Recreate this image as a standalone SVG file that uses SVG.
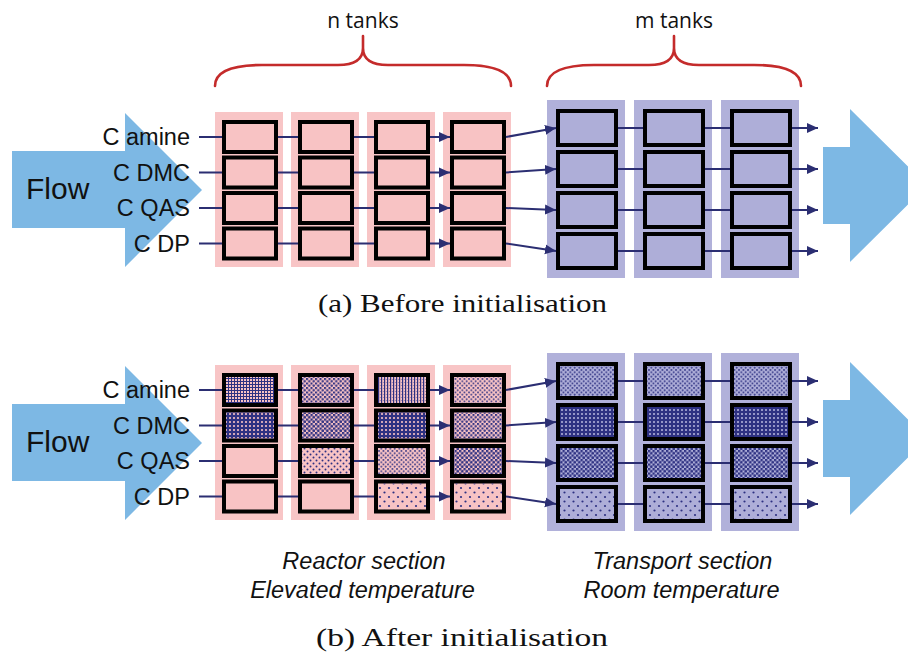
<svg xmlns="http://www.w3.org/2000/svg" width="908" height="654" viewBox="0 0 908 654">
<defs>
<style>
.bg{fill:#fff}
.flow{fill:#7DB8E4}
.pcol{fill:#F8C5C6}
.bcol{fill:#B1B1DA}
.pt{fill:#F8C3C4;stroke:#000;stroke-width:4}
.bt{fill:#AEAED8;stroke:#000;stroke-width:4}
.lbl{font-family:"Liberation Sans",Arial,sans-serif;font-size:23.5px;fill:#111;text-anchor:end}
.flowt{font-family:"Liberation Sans",Arial,sans-serif;font-size:30px;fill:#111}
.brt{font-family:"Open Sans","Noto Sans",sans-serif;font-size:21px;fill:#111;text-anchor:middle}
.brace{fill:none;stroke:#C42B2B;stroke-width:2.6;stroke-linecap:round}
.cap{font-family:"Liberation Serif","Times New Roman",serif;font-size:26px;fill:#111;text-anchor:middle}
.it{font-family:"Liberation Sans",Arial,sans-serif;font-size:23.5px;font-style:italic;fill:#111;text-anchor:middle}
.cn{stroke:#2B2E72;stroke-width:2;fill:none;marker-end:url(#ah)}
</style>
<marker id="ah" markerUnits="userSpaceOnUse" markerWidth="12" markerHeight="11" refX="11" refY="5.5" orient="auto">
<path d="M0,0.5 L11,5.5 L0,10.5 z" fill="#2B2E72"/>
</marker>
<pattern id="pSparse" patternUnits="userSpaceOnUse" width="9" height="9">
<circle cx="2" cy="2" r="1.1" fill="#2E3182"/><circle cx="6.5" cy="6.5" r="1.1" fill="#2E3182"/>
</pattern>
<pattern id="pLight" patternUnits="userSpaceOnUse" width="6" height="6">
<circle cx="1.5" cy="1.5" r="1" fill="#2E3182"/><circle cx="4.5" cy="4.5" r="1" fill="#2E3182"/>
</pattern>
<pattern id="pMed" patternUnits="userSpaceOnUse" width="4.5" height="4.5">
<circle cx="1" cy="1" r="0.95" fill="#2E3182"/><circle cx="3.25" cy="3.25" r="0.95" fill="#2E3182"/>
</pattern>
<pattern id="pDia" patternUnits="userSpaceOnUse" width="4.5" height="4.5">
<circle cx="1" cy="1" r="1.2" fill="#2E3182"/><circle cx="3.25" cy="3.25" r="1.2" fill="#2E3182"/>
</pattern>
<pattern id="pDia2" patternUnits="userSpaceOnUse" width="4.5" height="4.5">
<circle cx="1" cy="1" r="1.4" fill="#2E3182"/><circle cx="3.25" cy="3.25" r="1.4" fill="#2E3182"/>
</pattern>
<pattern id="pGrid" patternUnits="userSpaceOnUse" width="3" height="3">
<rect x="0" y="0" width="1" height="3" fill="#2E3182"/><rect x="0" y="0" width="3" height="1" fill="#2E3182"/>
</pattern>
<pattern id="pVert" patternUnits="userSpaceOnUse" width="3" height="3">
<rect x="0" y="0" width="1.2" height="3" fill="#2E3182"/><circle cx="2.2" cy="1.5" r="0.4" fill="#2E3182"/>
</pattern>
<pattern id="pDense" patternUnits="userSpaceOnUse" width="4" height="4">
<path d="M0,0H4V4H0Z M1.2,1H2.8V3H1.2Z" fill="#2E3182" fill-rule="evenodd"/>
</pattern>
</defs>

<rect class="bg" x="0" y="0" width="908" height="654"/>

<!-- ========== Panel (a) ========== -->
<g id="flow-in-a"><polygon class="flow" points="12,151 125,151 125,113 202,190 125,267 125,228 12,228"/><text class="flowt" x="26" y="199">Flow</text></g>
<g id="flow-out-a"><polygon class="flow" points="823,147 850,147 850,109 927,185.5 850,262 850,224 823,224"/></g>

<g id="brace-n"><path class="brace" d="M215,86 C215,70 235,65 262,65 L338,65 C356,65 363,58 363,48 L363,36 M363,48 C363,58 370,65 388,65 L464,65 C491,65 511,70 511,86"/><text class="brt" x="363" y="28">n tanks</text></g>
<g id="brace-m"><path class="brace" d="M547,86 C547,70 567,65 594,65 L649,65 C667,65 674,58 674,48 L674,36 M674,48 C674,58 681,65 699,65 L754,65 C781,65 801,70 801,86"/><text class="brt" x="674" y="28">m tanks</text></g>

<g id="labels-a">
<text class="lbl" x="190" y="145">C amine</text>
<text class="lbl" x="190" y="180.5">C DMC</text>
<text class="lbl" x="190" y="216">C QAS</text>
<text class="lbl" x="190" y="251.5">C DP</text>
</g>

<g id="reactor-a">
<rect class="pcol" x="215" y="112" width="68" height="155"/>
<rect class="pcol" x="291" y="112" width="68" height="155"/>
<rect class="pcol" x="367" y="112" width="68" height="155"/>
<rect class="pcol" x="443" y="112" width="68" height="155"/>
</g>
<g id="transport-a">
<rect class="bcol" x="547" y="100" width="78" height="178"/>
<rect class="bcol" x="634" y="100" width="78" height="178"/>
<rect class="bcol" x="721" y="100" width="78" height="178"/>
</g>

<g id="tanks-reactor-a">
<g id="a-r1-c1"><rect class="pt" x="224" y="122" width="52" height="30"/></g>
<g id="a-r1-c2"><rect class="pt" x="300" y="122" width="52" height="30"/></g>
<g id="a-r1-c3"><rect class="pt" x="376" y="122" width="52" height="30"/></g>
<g id="a-r1-c4"><rect class="pt" x="452" y="122" width="52" height="30"/></g>
<g id="a-r2-c1"><rect class="pt" x="224" y="157.5" width="52" height="30"/></g>
<g id="a-r2-c2"><rect class="pt" x="300" y="157.5" width="52" height="30"/></g>
<g id="a-r2-c3"><rect class="pt" x="376" y="157.5" width="52" height="30"/></g>
<g id="a-r2-c4"><rect class="pt" x="452" y="157.5" width="52" height="30"/></g>
<g id="a-r3-c1"><rect class="pt" x="224" y="193" width="52" height="30"/></g>
<g id="a-r3-c2"><rect class="pt" x="300" y="193" width="52" height="30"/></g>
<g id="a-r3-c3"><rect class="pt" x="376" y="193" width="52" height="30"/></g>
<g id="a-r3-c4"><rect class="pt" x="452" y="193" width="52" height="30"/></g>
<g id="a-r4-c1"><rect class="pt" x="224" y="228.5" width="52" height="30"/></g>
<g id="a-r4-c2"><rect class="pt" x="300" y="228.5" width="52" height="30"/></g>
<g id="a-r4-c3"><rect class="pt" x="376" y="228.5" width="52" height="30"/></g>
<g id="a-r4-c4"><rect class="pt" x="452" y="228.5" width="52" height="30"/></g>
</g>
<g id="tanks-transport-a">
<g id="a-r1-t1"><rect class="bt" x="558" y="111" width="58" height="34"/></g>
<g id="a-r1-t2"><rect class="bt" x="645" y="111" width="58" height="34"/></g>
<g id="a-r1-t3"><rect class="bt" x="732" y="111" width="58" height="34"/></g>
<g id="a-r2-t1"><rect class="bt" x="558" y="152" width="58" height="34"/></g>
<g id="a-r2-t2"><rect class="bt" x="645" y="152" width="58" height="34"/></g>
<g id="a-r2-t3"><rect class="bt" x="732" y="152" width="58" height="34"/></g>
<g id="a-r3-t1"><rect class="bt" x="558" y="193" width="58" height="34"/></g>
<g id="a-r3-t2"><rect class="bt" x="645" y="193" width="58" height="34"/></g>
<g id="a-r3-t3"><rect class="bt" x="732" y="193" width="58" height="34"/></g>
<g id="a-r4-t1"><rect class="bt" x="558" y="234" width="58" height="34"/></g>
<g id="a-r4-t2"><rect class="bt" x="645" y="234" width="58" height="34"/></g>
<g id="a-r4-t3"><rect class="bt" x="732" y="234" width="58" height="34"/></g>
</g>

<g id="connectors-a">
<path class="cn" d="M199,137H222 M278,137H298 M354,137H374 M430,137H450"/>
<path class="cn" d="M199,172.5H222 M278,172.5H298 M354,172.5H374 M430,172.5H450"/>
<path class="cn" d="M199,208H222 M278,208H298 M354,208H374 M430,208H450"/>
<path class="cn" d="M199,243.5H222 M278,243.5H298 M354,243.5H374 M430,243.5H450"/>
<line class="cn" x1="506" y1="137" x2="556" y2="128"/>
<line class="cn" x1="506" y1="172.5" x2="556" y2="169"/>
<line class="cn" x1="506" y1="208" x2="556" y2="210"/>
<line class="cn" x1="506" y1="243.5" x2="556" y2="251"/>
<path class="cn" d="M618,128H643 M705,128H730 M792,128H818"/>
<path class="cn" d="M618,169H643 M705,169H730 M792,169H818"/>
<path class="cn" d="M618,210H643 M705,210H730 M792,210H818"/>
<path class="cn" d="M618,251H643 M705,251H730 M792,251H818"/>
</g>

<text class="cap" x="462.5" y="312" textLength="289" lengthAdjust="spacingAndGlyphs">(a) Before initialisation</text>

<!-- ========== Panel (b) ========== -->
<g id="flow-in-b"><polygon class="flow" points="12,404 125,404 125,366 202,443 125,520 125,481 12,481"/><text class="flowt" x="26" y="452">Flow</text></g>
<g id="flow-out-b"><polygon class="flow" points="823,400 850,400 850,362 927,438.5 850,515 850,477 823,477"/></g>

<g id="labels-b">
<text class="lbl" x="190" y="398">C amine</text>
<text class="lbl" x="190" y="433.5">C DMC</text>
<text class="lbl" x="190" y="469">C QAS</text>
<text class="lbl" x="190" y="504.5">C DP</text>
</g>

<g id="reactor-b">
<rect class="pcol" x="215" y="365" width="68" height="155"/>
<rect class="pcol" x="291" y="365" width="68" height="155"/>
<rect class="pcol" x="367" y="365" width="68" height="155"/>
<rect class="pcol" x="443" y="365" width="68" height="155"/>
</g>
<g id="transport-b">
<rect class="bcol" x="547" y="353" width="78" height="178"/>
<rect class="bcol" x="634" y="353" width="78" height="178"/>
<rect class="bcol" x="721" y="353" width="78" height="178"/>
</g>

<g id="tanks-reactor-b">
<g id="b-r1-c1"><rect class="pt" x="224" y="375" width="52" height="30"/><rect x="226" y="377" width="48" height="26" fill="url(#pGrid)"/></g>
<g id="b-r1-c2"><rect class="pt" x="300" y="375" width="52" height="30"/><rect x="302" y="377" width="48" height="26" fill="url(#pDia)"/></g>
<g id="b-r1-c3"><rect class="pt" x="376" y="375" width="52" height="30"/><rect x="378" y="377" width="48" height="26" fill="url(#pVert)"/></g>
<g id="b-r1-c4"><rect class="pt" x="452" y="375" width="52" height="30"/><rect x="454" y="377" width="48" height="26" fill="url(#pMed)"/></g>
<g id="b-r2-c1"><rect class="pt" x="224" y="410.5" width="52" height="30"/><rect x="226" y="412.5" width="48" height="26" fill="url(#pDense)"/></g>
<g id="b-r2-c2"><rect class="pt" x="300" y="410.5" width="52" height="30"/><rect x="302" y="412.5" width="48" height="26" fill="url(#pDia2)"/></g>
<g id="b-r2-c3"><rect class="pt" x="376" y="410.5" width="52" height="30"/><rect x="378" y="412.5" width="48" height="26" fill="url(#pDense)"/></g>
<g id="b-r2-c4"><rect class="pt" x="452" y="410.5" width="52" height="30"/><rect x="454" y="412.5" width="48" height="26" fill="url(#pDia)"/></g>
<g id="b-r3-c1"><rect class="pt" x="224" y="446" width="52" height="30"/></g>
<g id="b-r3-c2"><rect class="pt" x="300" y="446" width="52" height="30"/><rect x="302" y="448" width="48" height="26" fill="url(#pLight)"/></g>
<g id="b-r3-c3"><rect class="pt" x="376" y="446" width="52" height="30"/><rect x="378" y="448" width="48" height="26" fill="url(#pMed)"/></g>
<g id="b-r3-c4"><rect class="pt" x="452" y="446" width="52" height="30"/><rect x="454" y="448" width="48" height="26" fill="url(#pDia2)"/></g>
<g id="b-r4-c1"><rect class="pt" x="224" y="481.5" width="52" height="30"/></g>
<g id="b-r4-c2"><rect class="pt" x="300" y="481.5" width="52" height="30"/></g>
<g id="b-r4-c3"><rect class="pt" x="376" y="481.5" width="52" height="30"/><rect x="378" y="483.5" width="48" height="26" fill="url(#pSparse)"/></g>
<g id="b-r4-c4"><rect class="pt" x="452" y="481.5" width="52" height="30"/><rect x="454" y="483.5" width="48" height="26" fill="url(#pSparse)"/></g>
</g>
<g id="tanks-transport-b">
<g id="b-r1-t1"><rect class="bt" x="558" y="364" width="58" height="34"/><rect x="560" y="366" width="54" height="30" fill="url(#pMed)"/></g>
<g id="b-r1-t2"><rect class="bt" x="645" y="364" width="58" height="34"/><rect x="647" y="366" width="54" height="30" fill="url(#pMed)"/></g>
<g id="b-r1-t3"><rect class="bt" x="732" y="364" width="58" height="34"/><rect x="734" y="366" width="54" height="30" fill="url(#pMed)"/></g>
<g id="b-r2-t1"><rect class="bt" x="558" y="405" width="58" height="34"/><rect x="560" y="407" width="54" height="30" fill="url(#pDense)"/></g>
<g id="b-r2-t2"><rect class="bt" x="645" y="405" width="58" height="34"/><rect x="647" y="407" width="54" height="30" fill="url(#pDense)"/></g>
<g id="b-r2-t3"><rect class="bt" x="732" y="405" width="58" height="34"/><rect x="734" y="407" width="54" height="30" fill="url(#pDense)"/></g>
<g id="b-r3-t1"><rect class="bt" x="558" y="446" width="58" height="34"/><rect x="560" y="448" width="54" height="30" fill="url(#pDia2)"/></g>
<g id="b-r3-t2"><rect class="bt" x="645" y="446" width="58" height="34"/><rect x="647" y="448" width="54" height="30" fill="url(#pDia2)"/></g>
<g id="b-r3-t3"><rect class="bt" x="732" y="446" width="58" height="34"/><rect x="734" y="448" width="54" height="30" fill="url(#pDia2)"/></g>
<g id="b-r4-t1"><rect class="bt" x="558" y="487" width="58" height="34"/><rect x="560" y="489" width="54" height="30" fill="url(#pSparse)"/></g>
<g id="b-r4-t2"><rect class="bt" x="645" y="487" width="58" height="34"/><rect x="647" y="489" width="54" height="30" fill="url(#pSparse)"/></g>
<g id="b-r4-t3"><rect class="bt" x="732" y="487" width="58" height="34"/><rect x="734" y="489" width="54" height="30" fill="url(#pSparse)"/></g>
</g>

<g id="connectors-b">
<path class="cn" d="M199,390H222 M278,390H298 M354,390H374 M430,390H450"/>
<path class="cn" d="M199,425.5H222 M278,425.5H298 M354,425.5H374 M430,425.5H450"/>
<path class="cn" d="M199,461H222 M278,461H298 M354,461H374 M430,461H450"/>
<path class="cn" d="M199,496.5H222 M278,496.5H298 M354,496.5H374 M430,496.5H450"/>
<line class="cn" x1="506" y1="390" x2="556" y2="381"/>
<line class="cn" x1="506" y1="425.5" x2="556" y2="422"/>
<line class="cn" x1="506" y1="461" x2="556" y2="463"/>
<line class="cn" x1="506" y1="496.5" x2="556" y2="504"/>
<path class="cn" d="M618,381H643 M705,381H730 M792,381H818"/>
<path class="cn" d="M618,422H643 M705,422H730 M792,422H818"/>
<path class="cn" d="M618,463H643 M705,463H730 M792,463H818"/>
<path class="cn" d="M618,504H643 M705,504H730 M792,504H818"/>
</g>

<g id="section-labels">
<text class="it" x="364" y="569">Reactor section</text>
<text class="it" x="362.5" y="597.5">Elevated temperature</text>
<text class="it" x="682.5" y="569">Transport section</text>
<text class="it" x="681.5" y="597.5">Room temperature</text>
</g>

<text class="cap" x="462" y="646" textLength="292" lengthAdjust="spacingAndGlyphs">(b) After initialisation</text>
</svg>
